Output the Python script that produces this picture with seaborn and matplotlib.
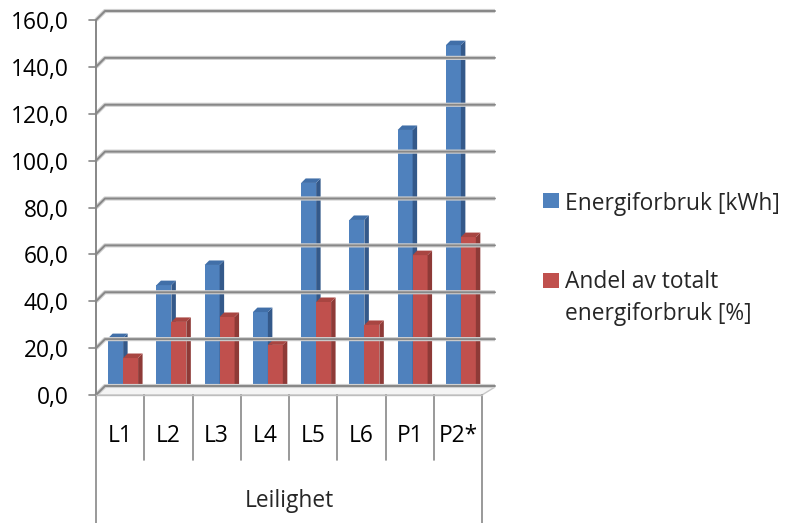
import numpy as np
import pandas as pd
import matplotlib
matplotlib.use("Agg")
import matplotlib.pyplot as plt
import seaborn as sns
from matplotlib.patches import Polygon, Rectangle
from matplotlib.lines import Line2D
from matplotlib.transforms import IdentityTransform, ScaledTranslation

# ---- data -----------------------------------------------------------------
categories = ["L1", "L2", "L3", "L4", "L5", "L6", "P1", "P2*"]
energy_kwh = [23.0, 45.6, 54.2, 34.1, 89.2, 73.4, 111.8, 148.0]
share_pct = [14.5, 29.9, 32.0, 20.1, 38.4, 28.6, 58.4, 66.1]
series_names = ["Energiforbruk [kWh]", "Andel av totalt\nenergiforbruk [%]"]
y_ticks = [0, 20, 40, 60, 80, 100, 120, 140, 160]
group_label = "Leilighet"

colors = ["#4F81BD", "#C0504D"]
side_colors = ["#34598A", "#8E3A37"]
top_colors = ["#416FA8", "#A84541"]
axis_gray = "#878787"

sns.set_theme(style="white")
plt.rcParams["font.family"] = ["Open Sans", "DejaVu Sans"]
FS = 16.4

df = pd.DataFrame({
    "Leilighet": categories * 2,
    "value": energy_kwh + share_pct,
    "series": [series_names[0]] * len(categories) + [series_names[1]] * len(categories),
})

W, H = 786, 523
fig = plt.figure(figsize=(W / 100, H / 100), dpi=100)
# plane of the bar fronts, in pixels from the top-left corner
L, R, B, T = 99, 485, 392, 17
ax = fig.add_axes([L / W, 1 - B / H, (R - L) / W, (B - T) / H])
ax.set_facecolor("none")

sns.barplot(data=df, x="Leilighet", y="value", hue="series", palette=colors,
            width=0.62, saturation=1, legend=False, ax=ax, zorder=3,
            linewidth=0, err_kws={"linewidth": 0})
ax.set_xlim(-0.5, len(categories) - 0.5)
ax.set_ylim(0, 160)
for s in ax.spines.values():
    s.set_visible(False)
ax.set_xlabel("")
ax.set_ylabel("")

fig.canvas.draw()

FRONT = (-3, 3)   # pixel offset (right, down) of the front plane
BACK = (6, -6)    # pixel offset of the back wall


def disp(x, y, off=(0, 0)):
    px, py = ax.transData.transform((x, y))
    return px + off[0], py - off[1]


def pline(pts, **kw):
    xs = [p[0] for p in pts]
    ys = [p[1] for p in pts]
    ln = Line2D(xs, ys, transform=IdentityTransform(), **kw)
    fig.add_artist(ln)
    return ln


x0, x1 = -0.5, len(categories) - 0.5

# floor
fl = [disp(x0, 0, FRONT), disp(x1, 0, FRONT),
      disp(x1, 0, (BACK[0] + 4, BACK[1] + 1)), disp(x0, 0, BACK)]
fig.add_artist(Polygon(fl, closed=True, transform=IdentityTransform(),
                       facecolor="#f4f4f4", edgecolor="#c8c8c8", lw=1.0, zorder=1))

# back-wall gridlines with their slanted left ends
for v in y_ticks:
    a = disp(x0, v, FRONT)
    b = disp(x0, v, BACK)
    c = disp(x1, v, (BACK[0] + 4, BACK[1]))
    pline([a, b, c], color="#d0d0d0", lw=3.0, zorder=1.4, solid_capstyle="butt")
    pline([a, b, c], color=axis_gray, lw=1.4, zorder=1.5)
    # tick mark on the front axis
    t = disp(x0, v, FRONT)
    pline([(t[0] - 7, t[1]), t], color=axis_gray, lw=1.2, zorder=2)

# front value axis
pline([disp(x0, 0, FRONT), disp(x0, 160, FRONT)], color=axis_gray, lw=1.4, zorder=2)

# category axis separators
for k in range(len(categories) + 1):
    top = disp(k - 0.5, 0, FRONT)
    bottom_y = 0 if k in (0, len(categories)) else top[1] - 65
    pline([top, (top[0], bottom_y)], color=axis_gray, lw=1.2, zorder=2)
pline([disp(x0, 0, FRONT), disp(x1, 0, FRONT)], color="#bdbdbd", lw=1.0, zorder=2)

# 3D side and top faces of each bar, derived from the drawn bars
bars = [p for p in ax.patches if p.get_height() > 0]
px_per_x = ax.transData.transform((1, 0))[0] - ax.transData.transform((0, 0))[0]
px_per_y = ax.transData.transform((0, 1))[1] - ax.transData.transform((0, 0))[1]
d = 4.5
dx, dy = d / px_per_x, d / px_per_y
n = len(categories)
for i, p in enumerate(bars):
    s = i // n
    x, w, h = p.get_x(), p.get_width(), p.get_height()
    p.set_zorder(3 + s)
    side = [(x + w, 0), (x + w, h), (x + w + dx, h + dy), (x + w + dx, dy)]
    top = [(x, h), (x + w, h), (x + w + dx, h + dy), (x + dx, h + dy)]
    ax.add_patch(Polygon(side, closed=True, facecolor=side_colors[s], lw=0, zorder=3.5 + s))
    ax.add_patch(Polygon(top, closed=True, facecolor=top_colors[s], lw=0, zorder=3.5 + s))

# value axis labels
ax.set_yticks(y_ticks)
ax.set_yticklabels([f"{v:.1f}".replace(".", ",") for v in y_ticks])
ax.tick_params(axis="y", length=0, pad=22, labelsize=FS, labelcolor="black")
for lab in ax.get_yticklabels():
    lab.set_transform(lab.get_transform() + ScaledTranslation(0, -3 / 100, fig.dpi_scale_trans))

# category labels
ax.set_xticks(range(n))
ax.set_xticklabels(categories)
ax.tick_params(axis="x", length=0, pad=23, labelsize=FS, labelcolor="black")
for lab in ax.get_xticklabels():
    lab.set_transform(lab.get_transform() + ScaledTranslation(-3 / 100, 0, fig.dpi_scale_trans))

gx = (disp(x0, 0, FRONT)[0] + disp(x1, 0, FRONT)[0]) / 2
fig.text(gx / W, 1 - 501 / H, group_label, ha="center", va="center", fontsize=FS)

# legend: colour key squares and series names (baseline of the last line)
key_top = [193, 273]
text_base = [210, 320]
for c, name, kt, tb in zip(colors, series_names, key_top, text_base):
    fig.add_artist(Rectangle((543 / W, 1 - (kt + 15) / H), 16 / W, 15 / H,
                             transform=fig.transFigure, facecolor=c, edgecolor="none"))
    fig.text(565 / W, 1 - tb / H, name, ha="left", va="baseline", fontsize=FS,
             linespacing=1.42)

fig.savefig("out.png", dpi=100, facecolor="white")
